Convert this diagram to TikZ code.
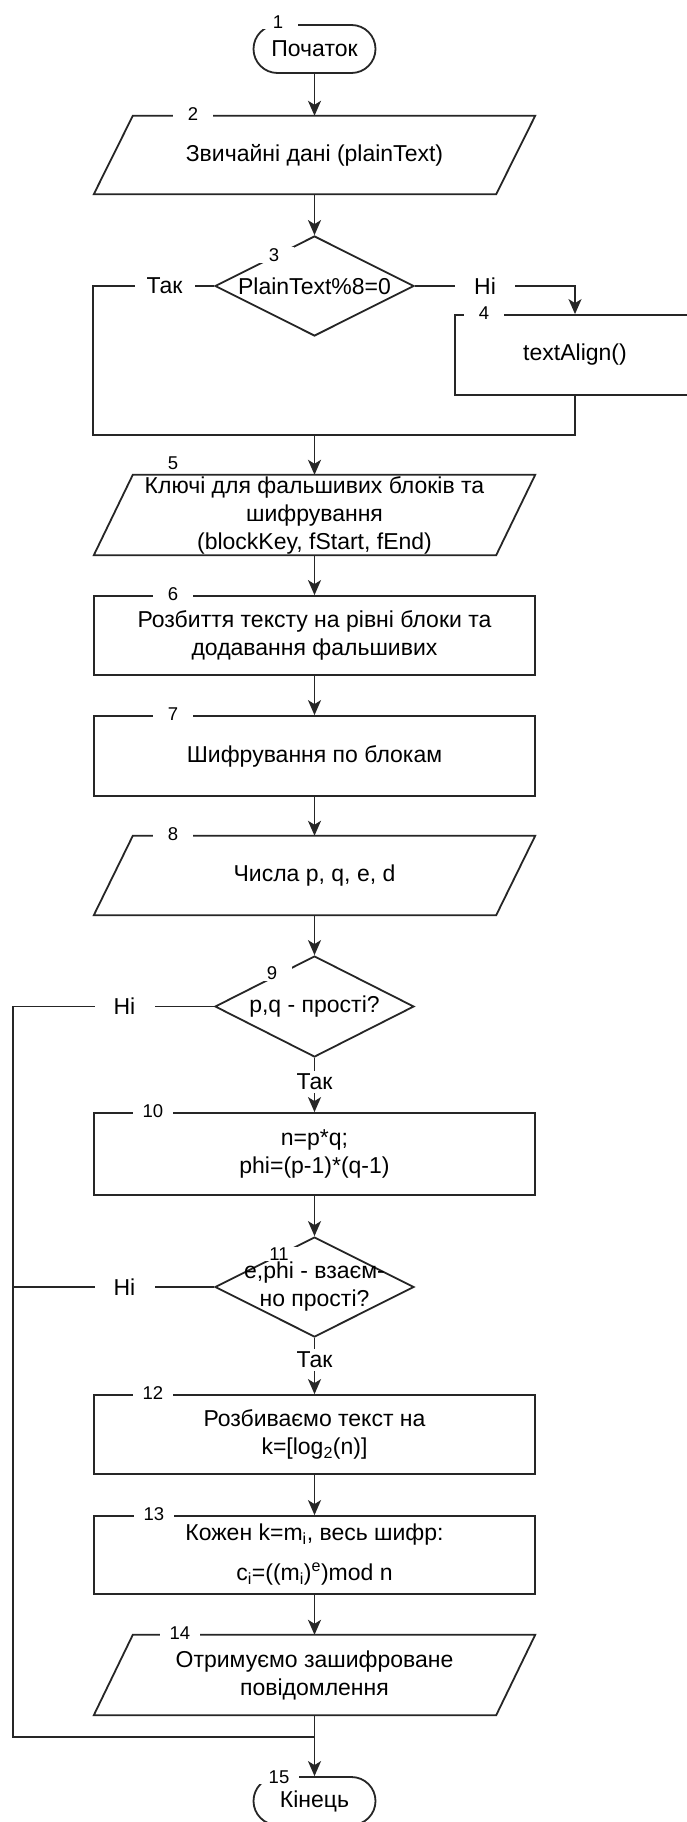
\documentclass[tikz,border=0pt]{standalone}
\usepackage{fontspec}
\setmainfont{Liberation Sans}
\usetikzlibrary{arrows.meta,shapes.geometric,calc}
\newcommand\paraout[1]{\draw[ln] ($(#1.north west)+(39,0)$) -- (#1.north east) -- ($(#1.south east)+(-39,0)$) -- (#1.south west) -- cycle;}
\begin{document}
\begin{tikzpicture}[x=1pt,y=-1pt,
  every node/.style={font=\fontsize{23}{28}\selectfont, text=black},
  ln/.style={draw=black!85, line width=1.8pt},
  arr/.style={ln, -{Stealth[length=15pt,width=13pt,inset=4pt]}},
  box/.style={ln, rectangle, minimum width=441pt, minimum height=80pt, align=center, inner sep=0pt},
  parabox/.style={rectangle, minimum width=441pt, minimum height=80pt, align=center, inner sep=0pt},
  term/.style={ln, rectangle, rounded corners=24pt, minimum width=122pt, minimum height=48pt, inner sep=0pt},
  dia/.style={ln, diamond, minimum width=199pt, minimum height=100pt, inner sep=0pt},
  num/.style={fill=white, font=\fontsize{18.5}{20}\selectfont, minimum width=40pt, inner xsep=0pt, inner ysep=1pt},
  yn/.style={fill=white, minimum width=60pt, inner xsep=0pt, inner ysep=1pt},
]
\clip (0,0) rectangle (687,1822);
\fill[white] (0,0) rectangle (687,1822);

% blocks
\node[term] (t1) at (314.5,49) {Початок};
\node[parabox, minimum height=78pt] (p2) at (314.5,155) {Звичайні дані (plainText)};
\node[dia] (d3) at (314.5,286) {};
\node (d3t) at (314.5,286) {PlainText\%8=0};
\node[box, minimum width=240pt] (b4) at (575,355) {textAlign()};
\coordinate (m1) at (314.5,435);
\node[parabox] (p5) at (314.5,515) {Ключі для фальшивих блоків та\\шифрування\\(blockKey, fStart, fEnd)};
\node[box, minimum height=79pt] (b6) at (314.5,635.5) {Розбиття тексту на рівні блоки та\\додавання фальшивих};
\node[box] (b7) at (314.5,756) {Шифрування по блокам};
\node[parabox, minimum height=79pt] (p8) at (314.5,875.5) {Числа p, q, e, d};
\node[dia, minimum height=101pt] (d9) at (314.5,1006.5) {};
\node (d9t) at (314.5,1006.5) {p,q - прості?};
\node[box, minimum height=82pt] (b10) at (314.5,1154) {n=p*q;\\phi=(p-1)*(q-1)};
\node[dia] (d11) at (314.5,1287) {};
\node[align=center] (d11t) at (314.5,1287) {e,phi - взаєм-\\но прості?};
\node[box, minimum height=79pt] (b12) at (314.5,1434.5) {Розбиваємо текст на\\k=[log\textsubscript{2}(n)]};
\node[box, minimum height=78pt] (b13) at (314.5,1555) {Кожен k=m\textsubscript{i}, весь шифр:\\[12pt]c\textsubscript{i}=((m\textsubscript{i})\textsuperscript{e})mod n};
\node[parabox] (p14) at (314.5,1675) {Отримуємо зашифроване\\повідомлення};
\coordinate (m2) at (314.5,1737);
\node[term] (t15) at (314.5,1801) {Кінець};

% parallelogram outlines
\paraout{p2}
\paraout{p5}
\paraout{p8}
\paraout{p14}

% connectors
\draw[arr] (t1.south) -- (p2.north);
\draw[arr] (p2.south) -- (d3.north);
\draw[ln] (d3.west) -- ++(-121,0) |- (m1);
\draw[arr] (d3.east) -| (b4.north);
\draw[ln] (b4.south) |- (m1);
\draw[arr] (m1) -- (p5.north);
\draw[arr] (p5.south) -- (b6.north);
\draw[arr] (b6.south) -- (b7.north);
\draw[arr] (b7.south) -- (p8.north);
\draw[arr] (p8.south) -- (d9.north);
\draw[ln] (d9.west) -- ++(-201,0) |- (m2);
\draw[arr] (d9.south) -- (b10.north);
\draw[arr] (b10.south) -- (d11.north);
\draw[ln] (d11.west) -- ++(-201,0);
\draw[arr] (d11.south) -- (b12.north);
\draw[arr] (b12.south) -- (b13.north);
\draw[arr] (b13.south) -- (p14.north);
\draw[arr] (p14.south) -- (t15.north);

% yes / no labels
\node[yn] (y3) at (164.5,286) {Так};
\node[yn] (n3) at (485,286) {Ні};
\node[yn] (n9) at (124.5,1006.5) {Ні};
\node[yn, minimum width=0pt, inner xsep=2pt, inner ysep=3pt] (y9) at (314.5,1082) {Так};
\node[yn] (n11) at (124.5,1287) {Ні};
\node[yn, minimum width=0pt, inner xsep=2pt, inner ysep=3pt] (y11) at (314.5,1360) {Так};

% block numbers
\node[num] (l1) at (278,22) {1};
\node[num] (l2) at (193,114) {2};
\node[num] (l3) at (274,255) {3};
\node[num] (l4) at (484,313) {4};
\node[num] (l5) at (173,463) {5};
\node[num] (l6) at (173,594) {6};
\node[num] (l7) at (173,714) {7};
\node[num] (l8) at (173,834) {8};
\node[num] (l9) at (272,973) {9};
\node[num] (l10) at (153,1111) {10};
\node[num] (l11) at (279,1254) {11};
\node[num] (l12) at (153,1393) {12};
\node[num] (l13) at (154,1514) {13};
\node[num] (l14) at (180,1633) {14};
\node[num] (l15) at (279,1777) {15};
\end{tikzpicture}
\end{document}
